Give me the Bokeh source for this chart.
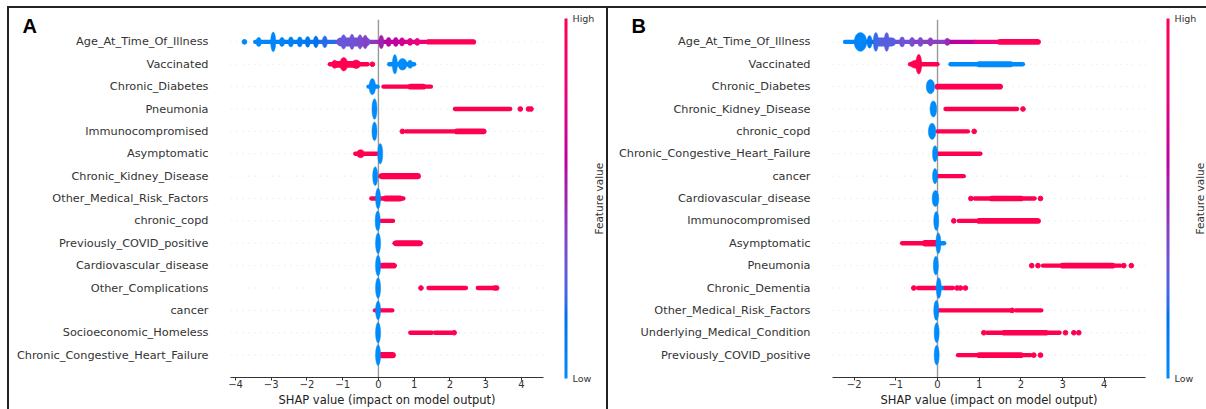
import numpy as np
from bokeh.plotting import figure
from bokeh.layouts import row, column
from bokeh.models import (FixedTicker, ColorBar, LinearColorMapper, Div, Spacer)
from bokeh.embed import file_html
from bokeh.resources import INLINE

# ---------------------------------------------------------------- data
# Feature order, top to bottom, for both panels
FEATURES_A = ["Age_At_Time_Of_Illness", "Vaccinated", "Chronic_Diabetes", "Pneumonia",
              "Immunocompromised", "Asymptomatic", "Chronic_Kidney_Disease",
              "Other_Medical_Risk_Factors", "chronic_copd", "Previously_COVID_positive",
              "Cardiovascular_disease", "Other_Complications", "cancer",
              "Socioeconomic_Homeless", "Chronic_Congestive_Heart_Failure"]

FEATURES_B = ["Age_At_Time_Of_Illness", "Vaccinated", "Chronic_Diabetes",
              "Chronic_Kidney_Disease", "chronic_copd", "Chronic_Congestive_Heart_Failure",
              "cancer", "Cardiovascular_disease", "Immunocompromised", "Asymptomatic",
              "Pneumonia", "Chronic_Dementia", "Other_Medical_Risk_Factors",
              "Underlying_Medical_Condition", "Previously_COVID_positive"]

# Dense streams of SHAP values: (shap_start, shap_end, normalised feature value)
RUNS_A = [
    [(-3.45, -2.6, 0.03), (-2.6, -1.8, 0.10), (-1.8, -1.1, 0.20), (-1.1, -0.3, 0.33),
     (-0.3, 0.15, 0.45), (0.15, 0.8, 0.62), (0.8, 1.4, 0.80), (1.4, 2.66, 0.97)],
    [(-1.36, -0.3, 1.0), (0.30, 1.0, 0.0)],
    [(-0.28, -0.02, 0.0), (0.14, 1.47, 1.0)],
    [(2.14, 3.69, 1.0)],
    [(0.77, 2.93, 1.0)],
    [(-0.65, -0.05, 1.0)],
    [(0.05, 1.12, 1.0)],
    [(-0.20, 0.0, 1.0), (0.05, 0.70, 1.0)],
    [(0.07, 0.41, 1.0)],
    [(0.45, 1.19, 1.0)],
    [(0.07, 0.46, 1.0)],
    [(1.40, 2.45, 1.0), (2.78, 3.20, 1.0)],
    [(-0.10, 0.0, 1.0), (0.03, 0.39, 1.0)],
    [(0.89, 1.50, 1.0), (1.58, 2.05, 1.0)],
    [(0.04, 0.42, 1.0)],
]

# Slightly denser stretches: (shap_start, shap_end, stack depth, normalised feature value)
BANDS_A = [
    [(-1.05, -0.35, 2.0, 0.34), (1.4, 2.66, 1.15, 0.97)],
    [(-1.20, -0.60, 1.5, 1.0)],
    [(0.90, 1.25, 1.3, 1.0)],
    [],
    [(2.20, 2.90, 1.3, 1.0)],
    [],
    [(0.10, 1.10, 1.35, 1.0)],
    [(0.20, 0.60, 1.35, 1.0)],
    [],
    [(0.50, 1.15, 1.35, 1.0)],
    [(0.10, 0.42, 1.3, 1.0)],
    [],
    [],
    [],
    [(0.08, 0.40, 1.35, 1.0)],
]

# Tall stacked clusters: (shap_start, shap_end, stack depth, normalised feature value)
BLOBS_A = [
    [(-3.40, -3.30, 2.0, 0.02), (-2.99, -2.90, 4.4, 0.03), (-2.75, -2.65, 2.0, 0.06),
     (-2.50, -2.40, 2.2, 0.08), (-2.25, -2.15, 2.2, 0.10), (-2.03, -1.93, 2.4, 0.14),
     (-1.80, -1.70, 2.6, 0.17), (-1.55, -1.45, 2.6, 0.20), (-1.05, -0.90, 3.2, 0.30),
     (-0.80, -0.68, 3.4, 0.33), (-0.58, -0.45, 3.2, 0.37), (-0.42, -0.32, 3.0, 0.40),
     (0.03, 0.13, 3.0, 0.50), (0.25, 0.32, 2.0, 0.58), (0.45, 0.52, 2.0, 0.62),
     (0.62, 0.70, 1.8, 0.68), (0.85, 0.92, 1.6, 0.75), (1.05, 1.12, 1.6, 0.82)],
    [(-1.08, -0.86, 3.0, 1.0), (-1.30, -1.15, 1.8, 1.0), (-0.75, -0.50, 1.9, 1.0),
     (0.42, 0.50, 4.3, 0.0), (0.55, 0.80, 2.6, 0.0), (0.82, 0.95, 1.8, 0.0)],
    [(-0.26, -0.08, 3.6, 0.0)],
    [(-0.16, -0.06, 4.6, 0.0)],
    [(-0.16, -0.06, 4.2, 0.0)],
    [(-0.60, -0.40, 1.8, 1.0), (0.00, 0.10, 4.6, 0.0)],
    [(-0.15, -0.03, 4.2, 0.0)],
    [(-0.05, 0.03, 4.6, 0.0)],
    [(-0.06, 0.02, 4.4, 0.0)],
    [(-0.05, 0.03, 4.6, 0.0)],
    [(-0.07, 0.05, 4.6, 0.0)],
    [(-0.05, 0.03, 4.6, 0.0)],
    [(-0.05, 0.03, 4.2, 0.0)],
    [(-0.05, 0.03, 4.6, 0.0)],
    [(-0.05, 0.03, 4.6, 0.0)],
]

# Isolated points: (shap value, normalised feature value)
DOTS_A = [
    [(-3.75, 0.02)],
    [(-0.17, 1.0)],
    [],
    [(3.97, 1.0), (4.20, 1.0), (4.27, 1.0)],
    [(0.67, 1.0), (2.95, 1.0)],
    [],
    [],
    [],
    [],
    [],
    [],
    [(1.19, 1.0), (3.25, 1.0), (3.31, 1.0)],
    [],
    [(2.12, 1.0)],
    [],
]

RUNS_B = [
    [(-2.22, -1.7, 0.03), (-1.7, -1.3, 0.18), (-1.3, -0.6, 0.32), (-0.6, 0.3, 0.42),
     (0.3, 0.9, 0.60), (0.9, 1.5, 0.80), (1.5, 2.43, 0.97)],
    [(-0.66, 0.0, 1.0), (0.31, 2.05, 0.0)],
    [(0.0, 1.51, 1.0)],
    [(0.19, 1.91, 1.0)],
    [(0.0, 0.73, 1.0)],
    [(0.01, 1.03, 1.0)],
    [(-0.05, 0.63, 1.0)],
    [(0.89, 2.33, 1.0)],
    [(0.51, 2.43, 1.0)],
    [(-0.85, -0.05, 1.0), (0.0, 0.16, 0.0)],
    [(2.53, 4.39, 1.0)],
    [(-0.47, 0.0, 1.0), (0.0, 0.19, 0.0), (0.19, 0.37, 1.0)],
    [(0.03, 1.75, 1.0), (1.88, 2.49, 1.0)],
    [(1.19, 2.93, 1.0)],
    [(0.49, 2.23, 1.0)],
]

BANDS_B = [
    [(-1.40, -1.10, 2.0, 0.27), (1.50, 2.40, 1.3, 0.97)],
    [(1.00, 1.75, 1.3, 0.0)],
    [(0.00, 1.50, 1.25, 1.0)],
    [],
    [],
    [],
    [],
    [(1.30, 2.00, 1.25, 1.0)],
    [(1.00, 2.40, 1.3, 1.0)],
    [(-0.30, -0.05, 1.4, 1.0)],
    [(3.00, 4.20, 1.25, 1.0)],
    [],
    [],
    [(1.60, 2.60, 1.25, 1.0)],
    [(1.00, 2.00, 1.25, 1.0)],
]

BLOBS_B = [
    [(-2.00, -1.70, 4.2, 0.04), (-1.68, -1.58, 2.8, 0.12), (-1.52, -1.44, 4.2, 0.22),
     (-1.26, -1.18, 4.2, 0.28), (-0.90, -0.80, 2.2, 0.33), (-0.65, -0.57, 2.0, 0.36),
     (-0.45, -0.37, 2.0, 0.38), (-0.21, -0.13, 1.8, 0.42), (0.20, 0.27, 1.6, 0.48)],
    [(-0.52, -0.38, 4.4, 1.0), (-0.66, -0.35, 1.8, 1.0)],
    [(-0.27, -0.07, 3.2, 0.0)],
    [(-0.18, -0.02, 3.6, 0.0)],
    [(-0.22, -0.04, 3.6, 0.0)],
    [(-0.12, 0.00, 3.6, 0.0)],
    [(-0.12, 0.00, 3.4, 0.0)],
    [(-0.13, 0.03, 3.6, 0.0)],
    [(-0.08, 0.02, 4.2, 0.0)],
    [(-0.03, 0.07, 4.6, 0.0)],
    [(-0.08, 0.00, 4.2, 0.0)],
    [(-0.02, 0.08, 4.6, 0.0)],
    [(-0.08, 0.02, 4.4, 0.0)],
    [(-0.06, 0.02, 4.4, 0.0)],
    [(-0.06, 0.02, 4.4, 0.0)],
]

DOTS_B = [
    [],
    [],
    [],
    [(2.05, 1.0)],
    [(0.88, 1.0)],
    [],
    [],
    [(0.80, 1.0), (2.47, 1.0)],
    [(0.39, 1.0)],
    [],
    [(2.26, 1.0), (2.41, 1.0), (4.47, 1.0), (4.65, 1.0)],
    [(-0.57, 1.0), (0.47, 1.0), (0.55, 1.0), (0.67, 1.0)],
    [(1.79, 1.0)],
    [(1.11, 1.0), (3.07, 1.0), (3.27, 1.0), (3.39, 1.0)],
    [(2.31, 1.0), (2.47, 1.0)],
]

XTICKS_A = [-4, -3, -2, -1, 0, 1, 2, 3, 4]
XTICKS_B = [-2, -1, 0, 1, 2, 3, 4]
XLABEL = "SHAP value (impact on model output)"
CBAR_TITLE = "Feature value"
CBAR_ENDS = {0: "Low", 1: "High"}


# ---------------------------------------------------------------- colormap
def shap_red_blue(n=256):
    """Blue -> purple -> red map interpolated in LCh space."""
    t = np.linspace(0, 1, n)
    L = np.where(t < 0.5, 54 + (40 - 54) * t / 0.5, 40 + (54 - 40) * (t - 0.5) / 0.5)
    C = 70 + (90 - 70) * t
    H = 4.6588 + (0.35470565 + 2 * np.pi - 4.6588) * t
    a = C * np.cos(H)
    b = C * np.sin(H)
    fy = (L + 16) / 116
    fx = fy + a / 500
    fz = fy - b / 200

    def finv(v):
        return np.where(v > 6 / 29, v ** 3, 3 * (6 / 29) ** 2 * (v - 4 / 29))

    X = 0.95047 * finv(fx)
    Y = finv(fy)
    Z = 1.08883 * finv(fz)
    r = 3.2404542 * X - 1.5371385 * Y - 0.4985314 * Z
    g = -0.9692660 * X + 1.8760108 * Y + 0.0415560 * Z
    bl = 0.0556434 * X - 0.2040259 * Y + 1.0572252 * Z

    def gam(u):
        u = np.clip(u, 0, 1)
        return np.where(u <= 0.0031308, 12.92 * u, 1.055 * u ** (1 / 2.4) - 0.055)

    rgb = np.stack([gam(r), gam(g), gam(bl)], axis=1)
    return ["#%02x%02x%02x" % tuple(int(round(255 * v)) for v in c) for c in rgb]


PALETTE = shap_red_blue()


def col(c):
    return PALETTE[int(round(c * (len(PALETTE) - 1)))]


FONT = "DejaVu Sans"
TXT = "#333333"
EDGE = "#222222"
DOT = 4.5       # marker diameter in px
FIG_H = 401


def text_carrier(text, orientation, location, font, size, style, color):
    """An empty, invisible colour bar used only to place its title text."""
    return ColorBar(color_mapper=LinearColorMapper(palette=["#ffffff"], low=0, high=1),
                    orientation=orientation, width=1, height=1, scale_alpha=0,
                    location=location, padding=0, margin=0, ticker=FixedTicker(ticks=[]),
                    major_tick_line_color=None, bar_line_color=None,
                    border_line_color=None, background_fill_color=None,
                    title=text, title_standoff=0, title_text_font=font,
                    title_text_font_style=style, title_text_font_size=size,
                    title_text_color=color)


def build_panel(letter, features, runs, bands, blobs, dots, x_range, xticks, width,
                border_left, border_right, letter_dx, caption_dx):
    n = len(features)
    p = figure(width=width, height=FIG_H, x_range=x_range, y_range=(-1, n),
               output_backend="svg", toolbar_location=None,
               min_border_left=border_left, min_border_right=border_right,
               min_border_top=11, min_border_bottom=32)
    p.outline_line_color = None
    p.xgrid.visible = False
    p.ygrid.visible = False

    frame_w = width - border_left - border_right
    px_per_unit = frame_w / (x_range[1] - x_range[0])
    min_w = 5.0 / px_per_unit
    ys = [n - 1 - i for i in range(n)]

    # dotted guide per feature row
    p.segment(x0=[x_range[0]] * n, x1=[x_range[1]] * n, y0=ys, y1=ys,
              line_color="#cccccc", line_width=0.6, line_dash="1 5")
    # zero reference
    p.segment(x0=[0], x1=[0], y0=[-1], y1=[n], line_color="#999999", line_width=1.4)

    rx0, rx1, ry, rc, rw = [], [], [], [], []
    bx, by, bw, bh, bc = [], [], [], [], []
    dx, dy, dc = [], [], []
    for i in range(n):
        y = ys[i]
        for x0, x1, c in runs[i]:
            rx0.append(x0); rx1.append(x1); ry.append(y); rc.append(col(c)); rw.append(DOT * 0.95)
        for x0, x1, depth, c in bands[i]:
            rx0.append(x0); rx1.append(x1); ry.append(y); rc.append(col(c)); rw.append(DOT * depth)
        for x0, x1, depth, c in blobs[i]:
            bx.append((x0 + x1) / 2); by.append(y)
            bw.append(max(x1 - x0, min_w)); bh.append(DOT * depth); bc.append(col(c))
        for x, c in dots[i]:
            dx.append(x); dy.append(y); dc.append(col(c))

    p.segment(x0=rx0, x1=rx1, y0=ry, y1=ry, line_color=rc, line_width=rw,
              line_cap="round")
    p.ellipse(x=bx, y=by, width=bw, height=bh, height_units="screen",
              fill_color=bc, line_color=bc, line_width=0.5)
    p.scatter(x=dx, y=dy, size=DOT + 0.2, fill_color=dc, line_color=dc)

    # y axis: feature names
    p.yaxis.ticker = FixedTicker(ticks=ys)
    p.yaxis.major_label_overrides = {ys[i]: features[i] for i in range(n)}
    p.yaxis.axis_line_color = None
    p.yaxis.major_tick_line_color = None
    p.yaxis.minor_tick_line_color = None
    p.yaxis.major_tick_out = 0
    p.yaxis.major_tick_in = 0
    p.yaxis.major_label_standoff = 22
    p.yaxis.major_label_text_font = FONT
    p.yaxis.major_label_text_font_size = "11.3px"
    p.yaxis.major_label_text_color = TXT

    # x axis
    p.xaxis.ticker = FixedTicker(ticks=xticks)
    p.xaxis.major_label_overrides = {t: ("\u2212" + str(-t) if t < 0 else str(t)) for t in xticks}
    p.xaxis.axis_line_color = TXT
    p.xaxis.axis_line_width = 1
    p.xaxis.major_tick_line_color = TXT
    p.xaxis.major_tick_out = 3
    p.xaxis.major_tick_in = 0
    p.xaxis.minor_tick_line_color = None
    p.xaxis.major_label_standoff = -1
    p.xaxis.major_label_text_font = FONT
    p.xaxis.major_label_text_font_size = "10px"
    p.xaxis.major_label_text_color = TXT
    p.xaxis.axis_label = XLABEL
    p.xaxis.axis_label_standoff = 2
    p.xaxis.axis_label_text_font = FONT
    p.xaxis.axis_label_text_font_size = "11.5px"
    p.xaxis.axis_label_text_font_style = "normal"
    p.xaxis.axis_label_text_color = EDGE

    # colour bar for the feature value
    mapper = LinearColorMapper(palette=PALETTE, low=0, high=1)
    cb = ColorBar(color_mapper=mapper, width=3, height=360,
                  location=(frame_w + 21, -1), padding=0, margin=0,
                  ticker=FixedTicker(ticks=list(CBAR_ENDS)),
                  major_label_overrides=CBAR_ENDS,
                  major_tick_line_color=None, bar_line_color=None,
                  border_line_color=None, background_fill_color=None,
                  label_standoff=5, major_label_text_font=FONT,
                  major_label_text_font_size="9.5px", major_label_text_color=TXT)
    p.add_layout(cb, "center")

    # rotated caption of the colour bar
    p.add_layout(text_carrier(CBAR_TITLE, "vertical", (frame_w + caption_dx, 143),
                              FONT, "10.5px", "normal", TXT), "center")
    # panel letter
    p.add_layout(text_carrier(letter, "horizontal", (letter_dx, 340),
                              "Liberation Sans", "20px", "bold", "#000000"), "center")
    return p


def rule(w, h):
    return Div(width=w, height=h, margin=0, styles={"background-color": EDGE})


pA = build_panel("A", FEATURES_A, RUNS_A, BANDS_A, BLOBS_A, DOTS_A, (-4.14, 4.62),
                 XTICKS_A, 597, 221, 63, -208, 47)
pB = build_panel("B", FEATURES_B, RUNS_B, BANDS_B, BLOBS_B, DOTS_B, (-2.52, 4.99),
                 XTICKS_B, 598, 224, 61, -201, 46)

layout = column(
    Spacer(width=1206, height=6, margin=0),
    row(Spacer(width=7, height=2, margin=0), rule(1199, 2)),
    row(Spacer(width=7, height=FIG_H, margin=0), rule(2, FIG_H), pA, rule(2, FIG_H), pB),
)
open("out.html", "w").write(file_html(layout, INLINE))
